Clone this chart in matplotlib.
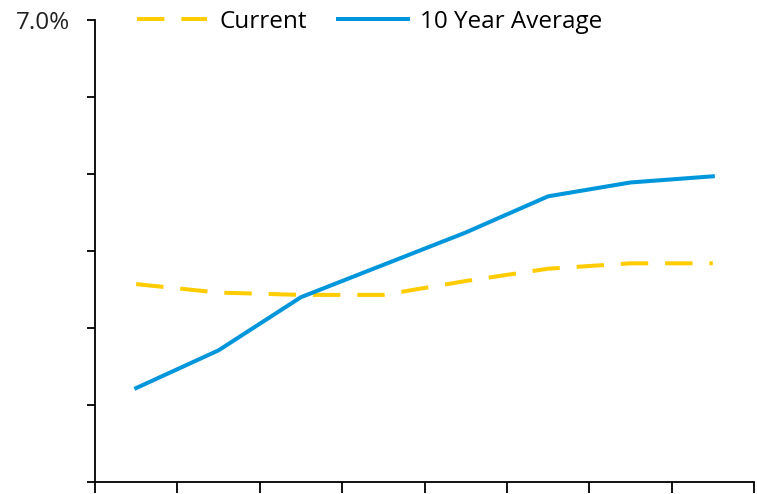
import matplotlib
matplotlib.use("Agg")
import matplotlib.pyplot as plt
import numpy as np

categories = ["1", "2", "3", "4", "5", "6", "7", "8"]
current = [3.57, 3.46, 3.43, 3.43, 3.61, 3.77, 3.84, 3.84]
ten_year_avg = [2.22, 2.71, 3.40, 3.82, 4.24, 4.71, 4.89, 4.97]
y_ticks = [1.0, 2.0, 3.0, 4.0, 5.0, 6.0, 7.0]
y_labels = ["", "", "", "", "", "", "7.0%"]

plt.rcParams['font.family'] = ['Open Sans', 'DejaVu Sans']

fig = plt.figure(figsize=(7.57, 4.94), dpi=100)
ax = fig.add_axes([95/757, 12/494, (754-95)/757, (482-20)/494])

x = np.arange(len(categories))
ax.plot(x, current, color="#FFCC00", lw=2.9, dashes=(6.8, 4.2), label="Current")
ax.plot(x, ten_year_avg, color="#0096DB", lw=2.9, label="10 Year Average")

ax.set_xlim(-0.5, len(categories) - 0.5)
ax.set_ylim(1.0, 7.0)
ax.set_xticks(np.arange(len(categories) + 1) - 0.5)
ax.set_xticklabels([])
ax.set_yticks(y_ticks)
ax.set_yticklabels(y_labels, fontsize=17.5, color="#222222")
ax.tick_params(axis='y', length=6, width=1.3, pad=12)
ax.tick_params(axis='x', length=8, width=1.3)
for s in ["top", "right"]:
    ax.spines[s].set_visible(False)
for s in ["left", "bottom"]:
    ax.spines[s].set_linewidth(1.3)

fig.legend(loc="center left", bbox_to_anchor=(137/757, 1 - 22/494), ncol=2,
           frameon=False, fontsize=17.5, handlelength=2.9, columnspacing=1.25,
           handletextpad=0.5, borderpad=0, borderaxespad=0)

fig.savefig("out.png", dpi=100)
